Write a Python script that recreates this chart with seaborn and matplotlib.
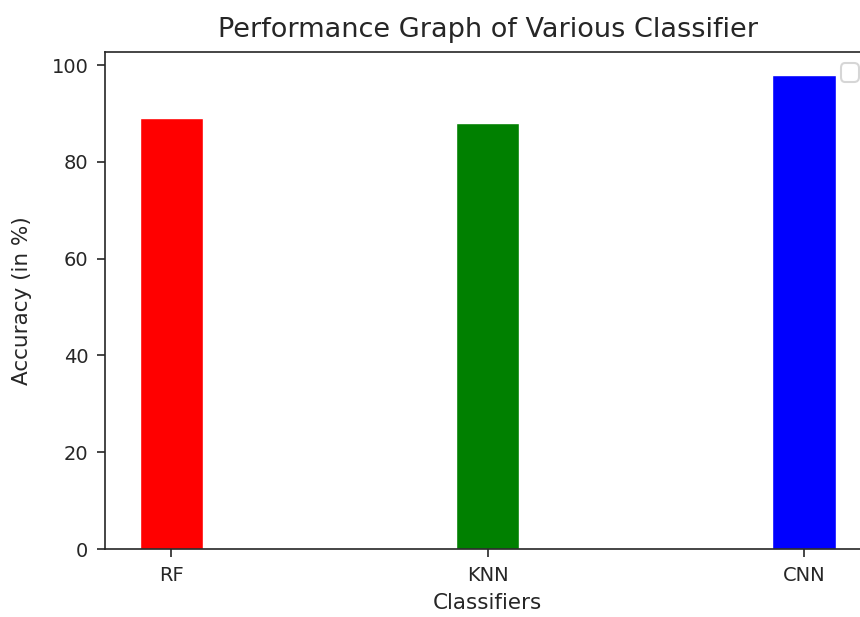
import matplotlib
matplotlib.use("Agg")
import matplotlib.pyplot as plt
import seaborn as sns
import pandas as pd

classifiers = ["RF", "KNN", "CNN"]
accuracy = [89.0, 88.1, 98.0]
colors = ["red", "green", "blue"]
yticks = [0, 20, 40, 60, 80, 100]

sns.set_theme(style="ticks")
plt.rcParams["font.family"] = ["DejaVu Sans"]

df = pd.DataFrame({"Classifier": classifiers, "Accuracy": accuracy})

fig = plt.figure(figsize=(8.6, 6.17), dpi=100)
ax = fig.add_axes([0.1221, 0.1102, 0.8901, 0.8055])

sns.barplot(data=df, x="Classifier", y="Accuracy", hue="Classifier",
            palette=colors, width=0.2, saturation=1, legend=False, ax=ax)

ax.set_xlim(-0.21, 2.21)
ax.set_ylim(0, 102.7)
ax.set_yticks(yticks)
ax.set_xlabel("Classifiers", fontsize=15.5, color="#262626", labelpad=6)
ax.set_ylabel("Accuracy (in %)", fontsize=15.5, color="#262626", labelpad=14)
ax.set_title("Performance Graph of Various Classifier", fontsize=19.5,
             color="#262626", pad=11)
ax.tick_params(labelsize=14, colors="#262626", length=6, width=1.2, pad=6)
for s in ax.spines.values():
    s.set_visible(True)
    s.set_color("#262626")
    s.set_linewidth(1.2)
leg = ax.legend(handles=[], loc="upper right", fontsize=16.5)
leg.get_frame().set_edgecolor("#cccccc")
leg.get_frame().set_linewidth(1.5)

fig.savefig("out.png", dpi=100)
